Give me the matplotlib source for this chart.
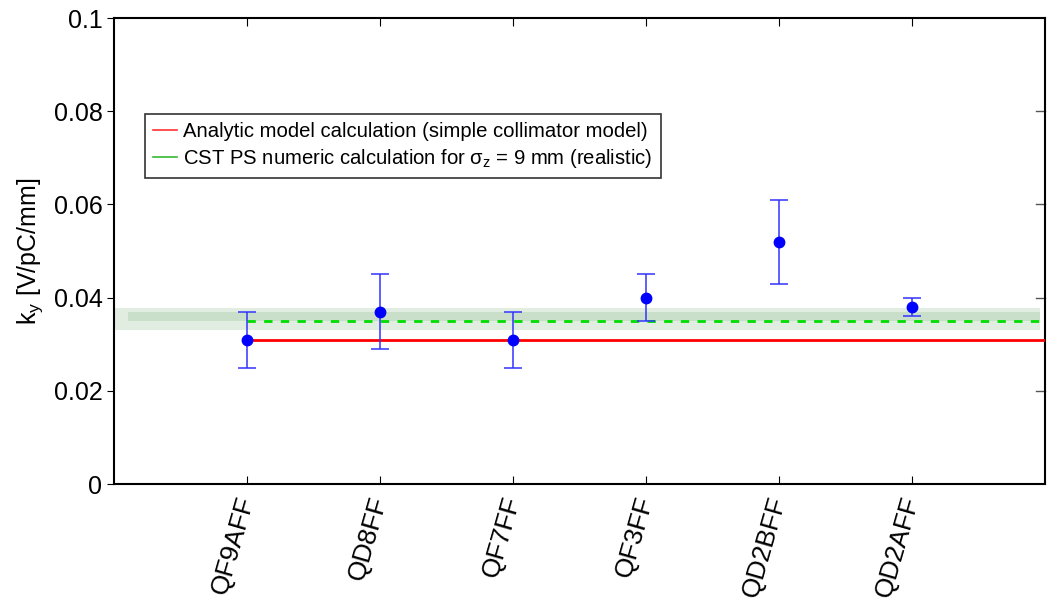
import matplotlib.pyplot as plt
import numpy as np
from matplotlib.lines import Line2D

plt.rcParams["font.family"] = ["Liberation Sans", "DejaVu Sans"]
plt.rcParams["mathtext.fontset"] = "custom"
plt.rcParams["mathtext.rm"] = "Liberation Sans"
plt.rcParams["mathtext.it"] = "Liberation Sans"

magnets = ["QF9AFF", "QD8FF", "QF7FF", "QF3FF", "QD2BFF", "QD2AFF"]
ky = [0.031, 0.037, 0.031, 0.040, 0.052, 0.038]
ky_low = [0.025, 0.029, 0.025, 0.035, 0.043, 0.036]
ky_high = [0.037, 0.045, 0.037, 0.045, 0.061, 0.040]

analytic_ky = 0.031
cst_ky = 0.035
cst_band_outer = (0.033, 0.0378)
cst_band_inner = (0.0350, 0.0370)

x = np.arange(1, len(magnets) + 1)
err = [np.array(ky) - np.array(ky_low), np.array(ky_high) - np.array(ky)]

fig = plt.figure(figsize=(10.48, 6.0), dpi=100)
ax = fig.add_axes([0.109, 0.193, 0.888, 0.777])

# soft shaded band around the CST result
ax.fill_between([0.0, 6.96], *cst_band_outer, color="#e2ede2", lw=0, zorder=1)
ax.fill_between([0.1, 6.96], *cst_band_inner, color="#cadfca", lw=0, zorder=1)

ax.plot([1, 7], [analytic_ky, analytic_ky], color="#ff0000", lw=2.0, zorder=3)
ax.plot([1, 7], [cst_ky, cst_ky], color="#00dd00", lw=2.0, ls=(0, (3, 3)), zorder=3)

ax.errorbar(x, ky, yerr=err, fmt="o", color="#0000ff", ms=7.5, ecolor="#3333ff",
            elinewidth=1.1, capsize=6.5, capthick=1.1, zorder=4)

ax.set_xlim(0, 7)
ax.set_ylim(0, 0.1)
ax.set_xticks(x)
ax.set_xticklabels(magnets, rotation=74, ha="right", va="center",
                   rotation_mode="anchor", fontsize=19)
ax.set_yticks([0, 0.02, 0.04, 0.06, 0.08, 0.1])
ax.set_yticklabels(["0", "0.02", "0.04", "0.06", "0.08", "0.1"])
ax.tick_params(axis="y", labelsize=18, direction="out", length=5, right=False)
ax.tick_params(axis="x", direction="in", length=6, top=True, pad=9)
ax.set_ylabel(r"k$_\mathregular{y}$ [V/pC/mm]", fontsize=18, labelpad=6)

# right-side inner ticks
for yv in [0.02, 0.04, 0.06, 0.08]:
    ax.plot([6.93, 7.0], [yv, yv], color="#555555", lw=1.0, clip_on=False, zorder=2)

for sp in ax.spines.values():
    sp.set_linewidth(1.5)

handles = [
    Line2D([], [], color="#ff3030", lw=1.2),
    Line2D([], [], color="#33bb33", lw=1.2),
]
labels = [
    "Analytic model calculation (simple collimator model)",
    r"CST PS numeric calculation for $\sigma_\mathregular{z}$ = 9 mm (realistic)",
]
leg = ax.legend(handles, labels, loc="upper left", bbox_to_anchor=(0.033, 0.795),
                fontsize=14.6, frameon=True, fancybox=False, edgecolor="black",
                handlelength=1.2, handletextpad=0.3, borderpad=0.4, labelspacing=0.3,
                borderaxespad=0)
leg.get_frame().set_linewidth(1.2)

fig.savefig("out.png", dpi=100)
